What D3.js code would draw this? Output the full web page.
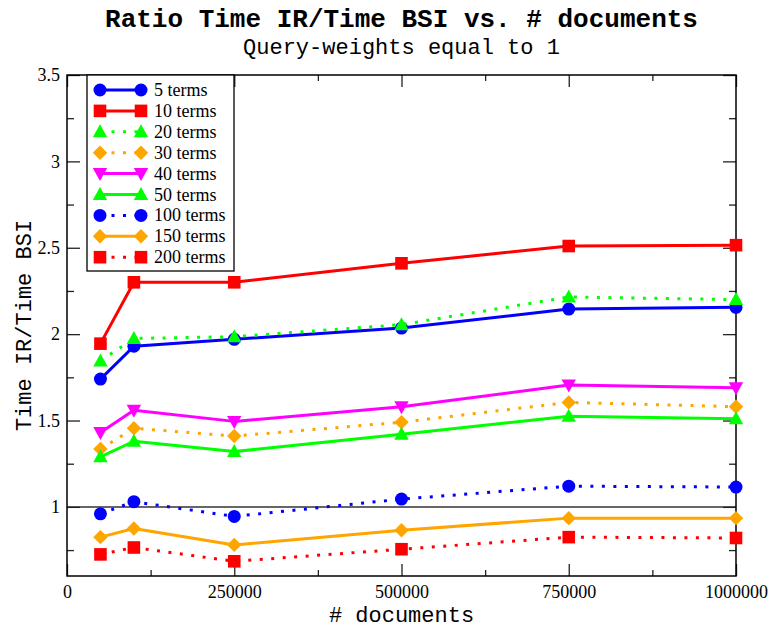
<!DOCTYPE html>
<html>
<head>
<meta charset="utf-8">
<script src="https://cdn.jsdelivr.net/npm/d3@7/dist/d3.min.js"></script>
<style>
  html, body { margin: 0; padding: 0; background: #fff; }
  svg { display: block; }
</style>
</head>
<body>
<script>
// Number of documents in the collection (x values)
const docs = [50000, 100000, 250000, 500000, 750000, 1000000];

// Ratio Time IR / Time BSI for each query length
const terms5   = [1.74, 1.93, 1.97, 2.035, 2.145, 2.155];
const terms10  = [1.945, 2.30, 2.30, 2.41, 2.51, 2.515];
const terms20  = [1.845, 1.975, 1.985, 2.055, 2.215, 2.20];
const terms30  = [1.335, 1.455, 1.41, 1.49, 1.605, 1.58];
const terms40  = [1.43, 1.56, 1.495, 1.58, 1.705, 1.69];
const terms50  = [1.29, 1.38, 1.32, 1.42, 1.525, 1.51];
const terms100 = [0.96, 1.03, 0.945, 1.045, 1.12, 1.115];
const terms150 = [0.825, 0.875, 0.78, 0.865, 0.935, 0.935];
const terms200 = [0.725, 0.765, 0.685, 0.755, 0.825, 0.82];

const seriesNames = ["5 terms", "10 terms", "20 terms", "30 terms", "40 terms",
                     "50 terms", "100 terms", "150 terms", "200 terms"];
const seriesValues = [terms5, terms10, terms20, terms30, terms40,
                      terms50, terms100, terms150, terms200];

// Axis ticks
const xMajorTicks = [0, 250000, 500000, 750000, 1000000];
const xMinorTicks = [125000, 375000, 625000, 875000];
const yMajorTicks = [1, 1.5, 2, 2.5, 3, 3.5];
const yMinorTicks = [0.75, 1.25, 1.75, 2.25, 2.75, 3.25];

const titleText = "Ratio Time IR/Time BSI vs. # documents";
const subtitleText = "Query-weights equal to 1";
const xLabelText = "# documents";
const yLabelText = "Time IR/Time BSI";

// Per-series appearance
const styles = [
  { color: "#0000ff", shape: "circle",  dotted: false },
  { color: "#ff0000", shape: "square",  dotted: false },
  { color: "#00ff00", shape: "triUp",   dotted: true  },
  { color: "#ffa500", shape: "diamond", dotted: true  },
  { color: "#ff00ff", shape: "triDown", dotted: false },
  { color: "#00ff00", shape: "triUp",   dotted: false },
  { color: "#0000ff", shape: "circle",  dotted: true  },
  { color: "#ffa500", shape: "diamond", dotted: false },
  { color: "#ff0000", shape: "square",  dotted: true  }
];

const W = 772, H = 630;
const plot = { left: 67, right: 736, top: 75, bottom: 576 };

const svg = d3.select("body").append("svg")
  .attr("width", W).attr("height", H);

const x = d3.scaleLinear().domain([0, 1000000]).range([plot.left, plot.right]);
const y = d3.scaleLinear().domain([0.6, 3.5]).range([plot.bottom, plot.top]);

const mono = "'Liberation Mono', 'DejaVu Sans Mono', monospace";
const serif = "'Liberation Serif', 'DejaVu Serif', serif";

// Titles
svg.append("text")
  .attr("x", (plot.left + plot.right) / 2).attr("y", 27)
  .attr("text-anchor", "middle")
  .style("font-family", mono).style("font-weight", "bold").style("font-size", "26px")
  .text(titleText);
svg.append("text")
  .attr("x", (plot.left + plot.right) / 2).attr("y", 54)
  .attr("text-anchor", "middle")
  .style("font-family", mono).style("font-size", "22px")
  .text(subtitleText);

// Reference line at ratio 1
svg.append("line")
  .attr("x1", plot.left).attr("x2", plot.right)
  .attr("y1", y(1)).attr("y2", y(1))
  .attr("stroke", "#333").attr("stroke-width", 1.5);

// Axes with inward ticks, mirrored on the opposite sides
const tickColor = "#222";
function styleAxis(g) {
  g.select(".domain").remove();
  g.selectAll(".tick line").attr("stroke", tickColor).attr("stroke-width", 1.3);
  g.selectAll(".tick text")
    .style("font-family", serif).style("font-size", "18px").attr("fill", "#000");
}

// bottom
svg.append("g").attr("transform", `translate(0,${plot.bottom})`)
  .call(d3.axisBottom(x).tickValues(xMajorTicks).tickSize(-12).tickPadding(10)
        .tickFormat(d3.format("d")))
  .call(styleAxis)
  .call(g => g.selectAll(".tick text").attr("y", 9));
svg.append("g").attr("transform", `translate(0,${plot.bottom})`)
  .call(d3.axisBottom(x).tickValues(xMinorTicks).tickSize(-6).tickFormat(""))
  .call(styleAxis);
// top
svg.append("g").attr("transform", `translate(0,${plot.top})`)
  .call(d3.axisTop(x).tickValues(xMajorTicks).tickSize(-12).tickFormat(""))
  .call(styleAxis);
svg.append("g").attr("transform", `translate(0,${plot.top})`)
  .call(d3.axisTop(x).tickValues(xMinorTicks).tickSize(-6).tickFormat(""))
  .call(styleAxis);
// left
svg.append("g").attr("transform", `translate(${plot.left},0)`)
  .call(d3.axisLeft(y).tickValues(yMajorTicks).tickSize(-13).tickPadding(7)
        .tickFormat(d => String(d)))
  .call(styleAxis)
  .call(g => g.selectAll(".tick text").attr("x", -7));
svg.append("g").attr("transform", `translate(${plot.left},0)`)
  .call(d3.axisLeft(y).tickValues(yMinorTicks).tickSize(-7).tickFormat(""))
  .call(styleAxis);
// right
svg.append("g").attr("transform", `translate(${plot.right},0)`)
  .call(d3.axisRight(y).tickValues(yMajorTicks).tickSize(-13).tickFormat(""))
  .call(styleAxis);
svg.append("g").attr("transform", `translate(${plot.right},0)`)
  .call(d3.axisRight(y).tickValues(yMinorTicks).tickSize(-7).tickFormat(""))
  .call(styleAxis);

// Frame
svg.append("rect")
  .attr("x", plot.left).attr("y", plot.top)
  .attr("width", plot.right - plot.left).attr("height", plot.bottom - plot.top)
  .attr("fill", "none").attr("stroke", "#000").attr("stroke-width", 1.5);

// Axis labels
svg.append("text")
  .attr("x", (plot.left + plot.right) / 2).attr("y", 622)
  .attr("text-anchor", "middle")
  .style("font-family", mono).style("font-size", "22px")
  .text(xLabelText);
svg.append("text")
  .attr("transform", `translate(31,${(plot.top + plot.bottom) / 2}) rotate(-90)`)
  .attr("text-anchor", "middle")
  .style("font-family", mono).style("font-size", "22px")
  .text(yLabelText);

// Marker shapes
function markerPath(shape) {
  switch (shape) {
    case "circle": return "M6.5,0A6.5,6.5 0 1,1 -6.5,0A6.5,6.5 0 1,1 6.5,0Z";
    case "square": return "M-6.3,-6.3H6.3V6.3H-6.3Z";
    case "triUp": return "M0,-7.5L7.2,5.5L-7.2,5.5Z";
    case "triDown": return "M0,7.5L7.2,-5.5L-7.2,-5.5Z";
    case "diamond": return "M0,-7.2L7.2,0L0,7.2L-7.2,0Z";
  }
}
function lineStyle(sel, st) {
  sel.attr("fill", "none").attr("stroke", st.color).attr("stroke-width", 3)
    .attr("stroke-dasharray", st.dotted ? "3,8.5" : null)
    .attr("stroke-linejoin", "round");
}

const line = d3.line().x(d => x(d[0])).y(d => y(d[1]));

seriesValues.forEach((vals, i) => {
  const st = styles[i];
  const pts = docs.map((d, j) => [d, vals[j]]);
  const g = svg.append("g").attr("class", "series");
  g.append("path").datum(pts).attr("d", line).call(lineStyle, st);
  g.selectAll("path.marker").data(pts).enter().append("path")
    .attr("class", "marker")
    .attr("transform", d => `translate(${x(d[0])},${y(d[1])})`)
    .attr("d", markerPath(st.shape))
    .attr("fill", st.color);
});

// Legend
const legend = svg.append("g");
legend.append("rect")
  .attr("x", 87).attr("y", plot.top).attr("width", 147).attr("height", 196)
  .attr("fill", "#fff").attr("stroke", "#000").attr("stroke-width", 1.3);
seriesNames.forEach((name, i) => {
  const st = styles[i];
  const cy = 90 + i * 20.9;
  legend.append("line")
    .attr("x1", 100).attr("x2", 141).attr("y1", cy).attr("y2", cy)
    .call(lineStyle, st);
  [100, 141].forEach(cx => {
    legend.append("path")
      .attr("transform", `translate(${cx},${cy})`)
      .attr("d", markerPath(st.shape))
      .attr("fill", st.color);
  });
  legend.append("text")
    .attr("x", 154).attr("y", cy + 6)
    .style("font-family", serif).style("font-size", "18px")
    .text(name);
});
</script>
</body>
</html>
